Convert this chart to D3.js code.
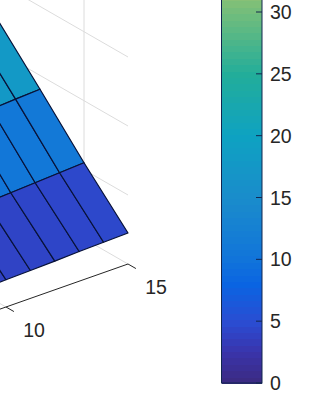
<!DOCTYPE html>
<html>
<head>
<meta charset="utf-8">
<script src="https://cdn.jsdelivr.net/npm/d3@7"></script>
<style>
  html, body { margin: 0; padding: 0; background: #fff; overflow: hidden; }
  svg { display: block; }
  text { font-family: "Liberation Sans", Arial, sans-serif; font-size: 19.5px; fill: #262626; }
</style>
</head>
<body>
<div id="chart"></div>
<script>
// surface grid
const xValues = [8, 9, 10, 11, 12, 13, 14, 15];
const yValues = [0, 1, 2, 3];
// z at each node, one row per y value, same order as xValues
const zRows = [
  [3.7, 3.85, 3.95, 4.05, 4.15, 4.3, 4.4, 4.5],
  [9.6, 9.8, 10.0, 10.2, 10.4, 10.6, 10.8, 11.0],
  [16.6, 16.8, 17.0, 17.2, 17.4, 17.6, 17.8, 18.0],
  [23.4, 23.6, 23.8, 24.0, 24.2, 24.4, 24.6, 24.8]
];

const xTicks = [10, 15];
const yGrid = [1];
const zGrid = [10, 20, 30];
const colorbarTicks = [0, 5, 10, 15, 20, 25, 30];

// colormap stops
const cmapValues = [0, 2.5, 4, 5, 8, 10, 15, 20, 25, 30, 33];
const cmapColors = ["#3b2a80", "#3a34aa", "#3042c4", "#2a4dd2", "#0a64e2", "#1174da", "#1a8ccb", "#0ea2c2", "#22ad9a", "#72bd7c", "#a8c46c"];

const width = 316, height = 420;

const svg = d3.select("#chart").append("svg")
  .attr("width", width)
  .attr("height", height);

// oblique projection, each data axis gets its own pixel scale
const xToSx = d3.scaleLinear().domain([10, 15]).range([6, 128]);
const xToSy = d3.scaleLinear().domain([10, 15]).range([307, 264]);
const yToSx = d3.scaleLinear().domain([0, 1]).range([0, -44]);
const yToSy = d3.scaleLinear().domain([0, 1]).range([0, -25.3]);
const zToSy = d3.scaleLinear().domain([0, 10]).range([0, -69]);

const project = (x, y, z) => [xToSx(x) + yToSx(y), xToSy(x) + yToSy(y) + zToSy(z)];

const color = d3.scaleLinear().domain(cmapValues).range(cmapColors).interpolate(d3.interpolateRgb);

// wall and floor grid lines
const grid = svg.append("g").attr("stroke", "#dcdcdc").attr("stroke-width", 1).attr("fill", "none");
const line = d3.line();

zGrid.forEach(z => {
  grid.append("path").attr("d", line([project(15, 0, z), project(15, 3, z)]));
});
yGrid.forEach(y => {
  grid.append("path").attr("d", line([project(15, y, 0), project(15, y, 60)]));
});
xTicks.forEach(x => {
  grid.append("path").attr("d", line([project(x, 0, 0), project(x, 3, 0)]));
});

// surface cells, back rows first
const cells = [];
for (let r = yValues.length - 2; r >= 0; r--) {
  for (let c = 0; c < xValues.length - 1; c++) {
    cells.push({
      pts: [
        project(xValues[c], yValues[r], zRows[r][c]),
        project(xValues[c + 1], yValues[r], zRows[r][c + 1]),
        project(xValues[c + 1], yValues[r + 1], zRows[r + 1][c + 1]),
        project(xValues[c], yValues[r + 1], zRows[r + 1][c])
      ],
      z: zRows[r][c + 1]
    });
  }
}

svg.append("g").selectAll("path")
  .data(cells)
  .enter()
  .append("path")
  .attr("d", d => line(d.pts) + "Z")
  .attr("fill", d => color(d.z))
  .attr("stroke", "#081238")
  .attr("stroke-width", 1.2)
  .attr("stroke-linejoin", "round");

// x axis along the front of the floor
const axisG = svg.append("g").attr("stroke", "#262626").attr("stroke-width", 1).attr("fill", "none");
axisG.append("path").attr("d", line([project(8, 0, 0), project(15, 0, 0)]));
xTicks.forEach(x => {
  axisG.append("path").attr("d", line([project(x, 0, 0), project(x, -0.18, 0)]));
});

svg.append("g").selectAll("text")
  .data(xTicks)
  .enter()
  .append("text")
  .attr("x", d => project(d, 0, 0)[0] + 28)
  .attr("y", d => project(d, 0, 0)[1] + 30)
  .attr("text-anchor", "middle")
  .text(d => d);

// colorbar
const barLeft = 221.5, barRight = 262;
const barScale = d3.scaleLinear().domain([0, 30]).range([383, 12]);
const levels = d3.range(0, 64);
const levelStep = 33 / 64;

svg.append("g").attr("shape-rendering", "crispEdges").selectAll("rect")
  .data(levels)
  .enter()
  .append("rect")
  .attr("x", barLeft)
  .attr("width", barRight - barLeft)
  .attr("y", d => barScale((d + 1) * levelStep))
  .attr("height", d => barScale(d * levelStep) - barScale((d + 1) * levelStep) + 1)
  .attr("fill", d => color((d + 0.5) * levelStep));

svg.append("rect")
  .attr("x", barLeft)
  .attr("y", barScale(33))
  .attr("width", barRight - barLeft)
  .attr("height", barScale(0) - barScale(33))
  .attr("fill", "none")
  .attr("stroke", "#12264f")
  .attr("stroke-width", 1);

svg.append("g").selectAll("line")
  .data(colorbarTicks)
  .enter()
  .append("line")
  .attr("x1", barRight - 6)
  .attr("x2", barRight)
  .attr("y1", d => barScale(d))
  .attr("y2", d => barScale(d))
  .attr("stroke", "#12264f");

svg.append("g").selectAll("text")
  .data(colorbarTicks)
  .enter()
  .append("text")
  .attr("x", 270)
  .attr("y", d => barScale(d) + 7)
  .text(d => d);
</script>
</body>
</html>
